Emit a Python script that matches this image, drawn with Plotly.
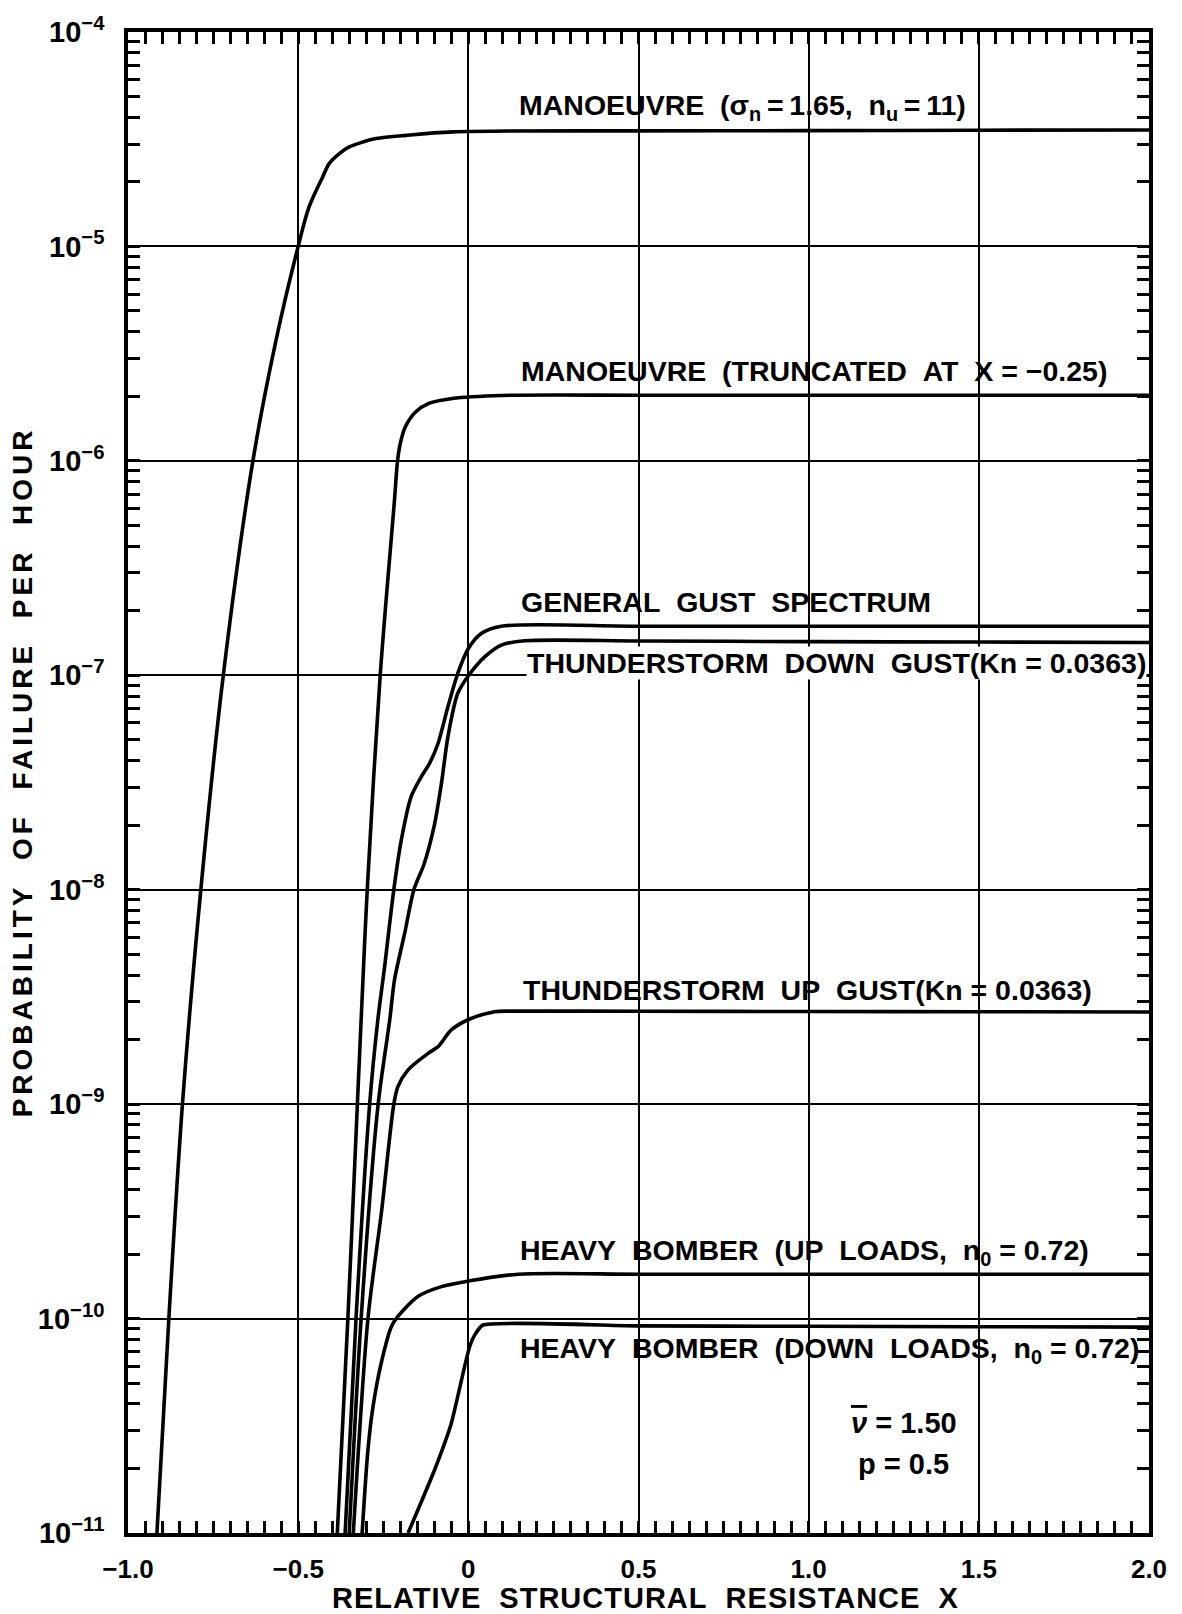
import numpy as np
import plotly.graph_objects as go

# ---------------- data ----------------
# x = relative structural resistance, y = log10(probability of failure per hour)
man_x = [-0.915, -0.88, -0.84, -0.786, -0.72, -0.633, -0.565, -0.5, -0.468, -0.428, -0.409, -0.379, -0.35, -0.31, -0.271, -0.183, -0.045, 0.5, 1.0, 1.5, 2.0]
man_y = [-11.0, -10.0, -9.0, -8.0, -7.0, -6.0, -5.437, -5.0, -4.816, -4.676, -4.614, -4.567, -4.536, -4.513, -4.497, -4.482, -4.466, -4.461, -4.46, -4.458, -4.457]

trunc_x = [-0.385, -0.354, -0.326, -0.315, -0.297, -0.259, -0.217, -0.208, -0.2, -0.185, -0.155, -0.116, -0.047, 0.1, 0.5, 1.0, 1.5, 2.0]
trunc_y = [-11.0, -10.0, -9.0, -8.608, -8.0, -7.0, -6.183, -6.0, -5.919, -5.841, -5.772, -5.732, -5.709, -5.695, -5.694, -5.694, -5.694, -5.694]

gen_x = [-0.362, -0.33, -0.29, -0.266, -0.246, -0.219, -0.197, -0.168, -0.138, -0.114, -0.089, -0.06, -0.031, 0.0, 0.038, 0.097, 0.5, 1.0, 1.5, 2.0]
gen_y = [-11.0, -10.0, -9.0, -8.608, -8.359, -8.0, -7.769, -7.566, -7.473, -7.411, -7.318, -7.147, -6.991, -6.875, -6.805, -6.771, -6.771, -6.771, -6.771, -6.771]

down_x = [-0.35, -0.315, -0.265, -0.231, -0.217, -0.187, -0.16, -0.13, -0.1, -0.079, -0.06, -0.031, 0.004, 0.048, 0.097, 0.166, 0.5, 1.0, 1.5, 2.0]
down_y = [-11.0, -10.0, -9.0, -8.608, -8.421, -8.203, -8.0, -7.88, -7.7, -7.504, -7.287, -7.084, -6.994, -6.914, -6.859, -6.839, -6.84, -6.843, -6.845, -6.847]

up_x = [-0.338, -0.295, -0.255, -0.219, -0.207, -0.177, -0.118, -0.089, -0.05, 0.004, 0.077, 0.12, 0.5, 1.0, 1.5, 2.0]
up_y = [-11.0, -10.0, -9.5, -9.0, -8.918, -8.84, -8.763, -8.732, -8.654, -8.603, -8.569, -8.566, -8.567, -8.568, -8.569, -8.57]

hbu_x = [-0.312, -0.295, -0.28, -0.256, -0.226, -0.207, -0.148, -0.079, 0.004, 0.146, 0.5, 1.0, 1.5, 2.0]
hbu_y = [-11.0, -10.612, -10.41, -10.208, -10.037, -9.99, -9.897, -9.851, -9.824, -9.793, -9.793, -9.793, -9.793, -9.793]

hbd_x = [-0.177, -0.099, -0.05, -0.011, 0.004, 0.019, 0.043, 0.5, 1.0, 1.5, 2.0]
hbd_y = [-11.0, -10.705, -10.488, -10.224, -10.13, -10.076, -10.03, -10.034, -10.036, -10.038, -10.04]

x_major = [-1.0, -0.5, 0.0, 0.5, 1.0, 1.5, 2.0]
x_major_text = ["\u22121.0", "\u22120.5", "0", "0.5", "1.0", "1.5", "2.0"]
y_decades = [-11, -10, -9, -8, -7, -6, -5, -4]

S2 = "\u00a0\u00a0"
T = "\u2009"
labels = [
    ("MANOEUVRE" + S2 + "(\u03c3<sub>n</sub>" + T + "=" + T + "1.65," + S2 + "n<sub>u</sub>" + T + "=" + T + "11)", 0.147, -4.352, False),
    ("MANOEUVRE" + S2 + "(TRUNCATED" + S2 + "AT" + S2 + "X\u00a0=\u00a0\u22120.25)", 0.153, -5.582, False),
    ("GENERAL" + S2 + "GUST" + S2 + "SPECTRUM", 0.153, -6.656, False),
    ("THUNDERSTORM" + S2 + "DOWN" + S2 + "GUST(Kn\u00a0=\u00a00.0363)", 0.168, -6.945, True),
    ("THUNDERSTORM" + S2 + "UP" + S2 + "GUST(Kn\u00a0=\u00a00.0363)", 0.159, -8.466, False),
    ("HEAVY" + S2 + "BOMBER" + S2 + "(UP" + S2 + "LOADS," + S2 + "n<sub>0</sub>\u00a0=\u00a00.72)", 0.15, -9.69, False),
    ("HEAVY" + S2 + "BOMBER" + S2 + "(DOWN" + S2 + "LOADS," + S2 + "n<sub>0</sub>\u00a0=\u00a00.72)", 0.15, -10.147, False),
]
params = [("<span style=\"text-decoration:overline\"><i>\u03bd</i></span>\u00a0=\u00a01.50", 1.279, -10.485),
          ("p\u00a0=\u00a00.5", 1.279, -10.679)]
x_title = "RELATIVE" + S2 + "STRUCTURAL" + S2 + "RESISTANCE" + S2 + "X"
y_title = "PROBABILITY" + S2 + "OF" + S2 + "FAILURE" + S2 + "PER" + S2 + "HOUR"

# ---------------- figure ----------------
FONT = "Liberation Sans"
fig = go.Figure()

curves = [(man_x, man_y, 0.9), (trunc_x, trunc_y, 0.9), (gen_x, gen_y, 0.8), (down_x, down_y, 0.8),
          (up_x, up_y, 0.8), (hbu_x, hbu_y, 0.8), (hbd_x, hbd_y, 0.5)]
for cx, cy, sm in curves:
    fig.add_trace(go.Scatter(
        x=cx, y=[10 ** v for v in cy], mode="lines",
        line=dict(color="black", width=3.6, shape="spline", smoothing=sm),
        showlegend=False, hoverinfo="skip"))

x_minor = [round(-1 + 0.05 * i, 2) for i in range(61)]
x_minor = [v for v in x_minor if round(v * 2) != v * 2]
y_minor = [m * 10.0 ** d for d in range(-11, -4) for m in range(2, 10)]

fig.update_xaxes(
    range=[-1, 2], tickmode="array", tickvals=x_major, ticktext=x_major_text,
    showgrid=True, gridcolor="black", gridwidth=2,
    showline=True, linecolor="black", linewidth=3.5, mirror="allticks",
    ticks="inside", ticklen=12, tickwidth=2.5, tickcolor="black",
    minor=dict(tickvals=x_minor, ticks="inside", ticklen=12, tickwidth=2.5,
               tickcolor="black", showgrid=False),
    tickfont=dict(family=FONT, size=26, color="black", weight="bold"),
    ticklabelstandoff=10,
    automargin=False,
    zeroline=False,
)
fig.update_yaxes(
    type="log", range=[-11, -4], tickmode="array",
    tickvals=[10.0 ** d for d in y_decades],
    ticktext=["10<sup>\u2212%d</sup>" % (-d) for d in y_decades],
    showgrid=True, gridcolor="black", gridwidth=2,
    showline=True, linecolor="black", linewidth=3.5, mirror="allticks",
    ticks="inside", ticklen=12, tickwidth=2.5, tickcolor="black",
    minor=dict(tickvals=y_minor, ticks="inside", ticklen=12, tickwidth=2.5,
               tickcolor="black", showgrid=False),
    tickfont=dict(family=FONT, size=29, color="black", weight="bold"),
    ticklabelstandoff=14,
    automargin=False,
    zeroline=False,
)

# axis titles (placed relative to the plotting area)
fig.add_annotation(x=0.507, y=-0.0435, xref="paper", yref="paper",
                   text="<span style=\"letter-spacing:1px\">" + x_title + "</span>",
                   showarrow=False, xanchor="center", yanchor="middle",
                   font=dict(family=FONT, size=29, color="black", weight="bold"))
fig.add_annotation(x=-0.1025, y=0.507, xref="paper", yref="paper", textangle=-90,
                   text="<span style=\"letter-spacing:4px\">" + y_title + "</span>",
                   showarrow=False, xanchor="center", yanchor="middle",
                   font=dict(family=FONT, size=28, color="black", weight="bold"))

for txt, lx, ly, bg in labels:
    fig.add_annotation(x=lx, y=ly, xref="x", yref="y", text=txt, showarrow=False,
                       xanchor="left", yanchor="middle",
                       bgcolor="white" if bg else "rgba(0,0,0,0)", borderpad=0,
                       font=dict(family=FONT, size=28.5, color="black", weight="bold"))
for txt, lx, ly in params:
    fig.add_annotation(x=lx, y=ly, xref="x", yref="y", text=txt, showarrow=False,
                       xanchor="center", yanchor="middle",
                       font=dict(family=FONT, size=29, color="black", weight="bold"))

fig.update_layout(
    width=1182, height=1614,
    margin=dict(l=128, r=33, t=32, b=81),
    paper_bgcolor="white", plot_bgcolor="white",
    font=dict(family=FONT, color="black"),
)

fig.write_html("out.html")
